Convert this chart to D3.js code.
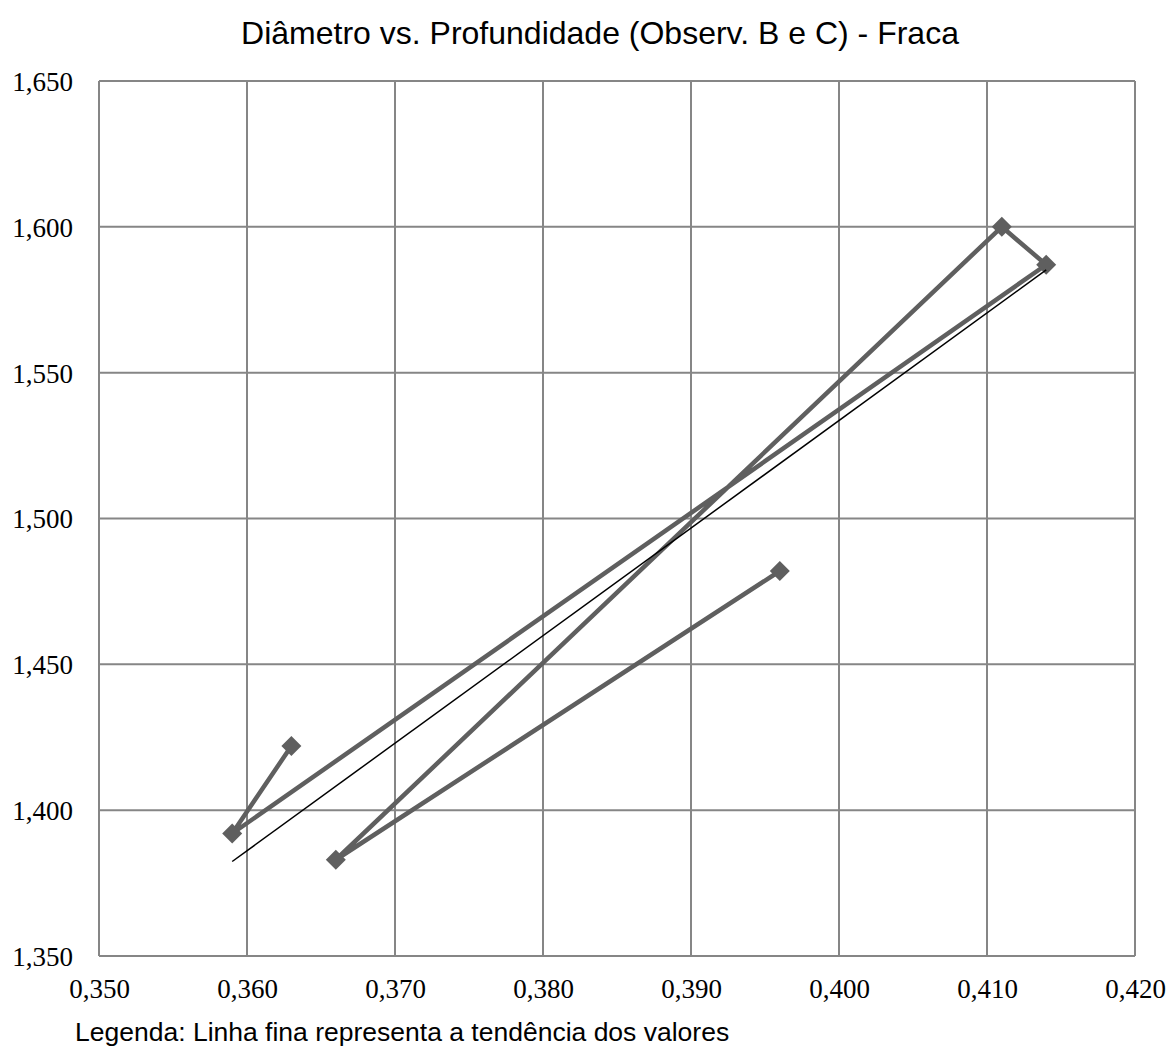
<!DOCTYPE html>
<html>
<head>
<meta charset="utf-8">
<script src="https://cdn.jsdelivr.net/npm/d3@7"></script>
<style>
  html, body { margin: 0; padding: 0; background: #fff; }
  svg { display: block; }
</style>
</head>
<body>
<svg id="chart" width="1171" height="1050"></svg>
<script>
// Diâmetro (x) e Profundidade (y), na ordem das observações
const diametro = [0.363, 0.359, 0.414, 0.411, 0.366, 0.396];
const profundidade = [1.422, 1.392, 1.587, 1.600, 1.383, 1.482];
const xTicks = [0.350, 0.360, 0.370, 0.380, 0.390, 0.400, 0.410, 0.420];
const yTicks = [1.350, 1.400, 1.450, 1.500, 1.550, 1.600, 1.650];
const titulo = "Diâmetro vs. Profundidade (Observ. B e C) - Fraca";
const legenda = "Legenda: Linha fina representa a tendência dos valores";

const svg = d3.select("#chart");
const plot = { left: 99, right: 1135, top: 81, bottom: 956 };

const x = d3.scaleLinear().domain([0.350, 0.420]).range([plot.left, plot.right]);
const y = d3.scaleLinear().domain([1.350, 1.650]).range([plot.bottom, plot.top]);
const fmt = v => d3.format(".3f")(v).replace(".", ",");

// grade
const grid = svg.append("g");
grid.selectAll("line.v").data(xTicks).join("line")
  .attr("x1", d => x(d)).attr("x2", d => x(d))
  .attr("y1", plot.top).attr("y2", plot.bottom)
  .attr("stroke", "#868686").attr("stroke-width", 2);
grid.selectAll("line.h").data(yTicks).join("line")
  .attr("x1", plot.left).attr("x2", plot.right)
  .attr("y1", d => y(d)).attr("y2", d => y(d))
  .attr("stroke", "#868686").attr("stroke-width", 2);

// eixos (apenas rótulos)
const xAxis = svg.append("g").attr("transform", `translate(0,${plot.bottom})`)
  .call(d3.axisBottom(x).tickValues(xTicks).tickFormat(fmt).tickSize(0).tickPadding(23));
const yAxis = svg.append("g").attr("transform", `translate(${plot.left},0)`)
  .call(d3.axisLeft(y).tickValues(yTicks).tickFormat(fmt).tickSize(0).tickPadding(26));
[xAxis, yAxis].forEach(a => {
  a.select(".domain").remove();
  a.selectAll("text").attr("font-family", "'Liberation Serif', 'DejaVu Serif', serif")
    .attr("font-size", 27).attr("fill", "#000");
});
yAxis.selectAll("text").attr("dy", "0.35em");

// série
const pts = diametro.map((d, i) => [d, profundidade[i]]);
const line = d3.line().x(d => x(d[0])).y(d => y(d[1]));
svg.append("path").datum(pts)
  .attr("d", line).attr("fill", "none")
  .attr("stroke", "#5f5f5f").attr("stroke-width", 4.5)
  .attr("stroke-linejoin", "round");

svg.selectAll("path.mk").data(pts).join("path")
  .attr("d", d3.symbol(d3.symbolSquare, 200))
  .attr("transform", d => `translate(${x(d[0])},${y(d[1])}) rotate(45)`)
  .attr("fill", "#5f5f5f");

// linha de tendência (mínimos quadrados)
const mx = d3.mean(diametro), my = d3.mean(profundidade);
const sxy = d3.sum(diametro, (d, i) => (d - mx) * (profundidade[i] - my));
const sxx = d3.sum(diametro, d => (d - mx) ** 2);
const b = sxy / sxx, a0 = my - b * mx;
const [xmin, xmax] = d3.extent(diametro);
svg.append("line")
  .attr("x1", x(xmin)).attr("y1", y(a0 + b * xmin))
  .attr("x2", x(xmax)).attr("y2", y(a0 + b * xmax))
  .attr("stroke", "#000").attr("stroke-width", 1.5);

// título e legenda
svg.append("text").attr("x", 600).attr("y", 44).attr("text-anchor", "middle")
  .attr("font-family", "'Liberation Sans', Arial, sans-serif").attr("font-size", 32)
  .text(titulo);
svg.append("text").attr("x", 75).attr("y", 1041)
  .attr("font-family", "'Liberation Sans', Arial, sans-serif").attr("font-size", 26.5)
  .text(legenda);
</script>
</body>
</html>
